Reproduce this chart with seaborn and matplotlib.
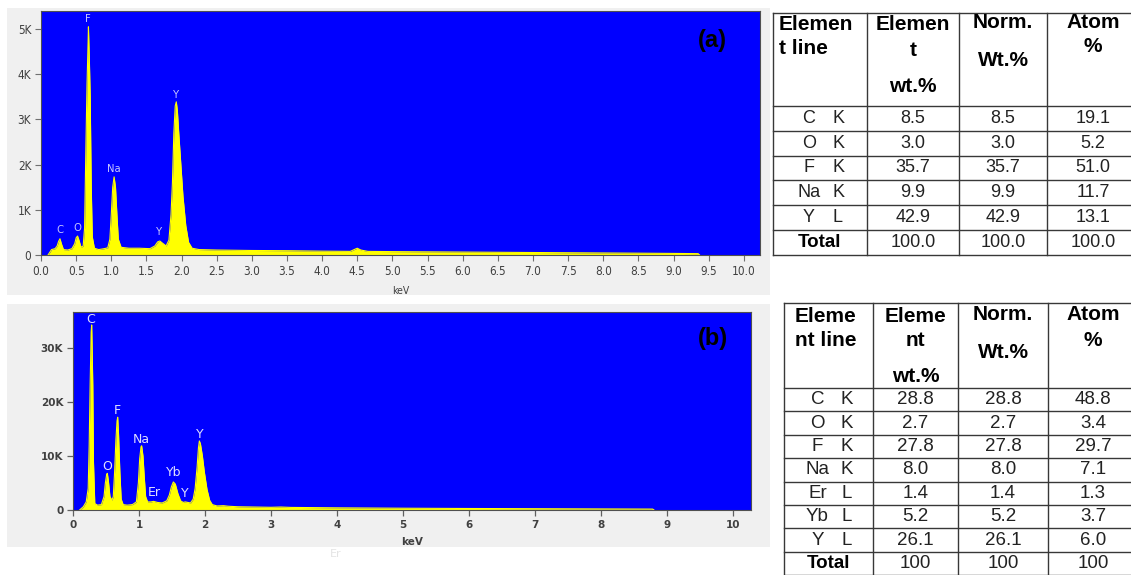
import matplotlib
matplotlib.use("Agg")
import matplotlib.pyplot as plt
import seaborn as sns
import pandas as pd
from matplotlib.patches import Rectangle

# ---------------- data: spectrum (a) ----------------
energy_a = [0.10, 0.15, 0.20, 0.23, 0.25, 0.27, 0.29, 0.32, 0.38, 0.44, 0.48, 0.50, 0.52,
            0.54, 0.57, 0.60, 0.62, 0.64, 0.655, 0.67, 0.675, 0.69, 0.70, 0.715, 0.73, 0.76,
            0.82, 0.90, 0.95, 0.98, 1.00, 1.02, 1.04, 1.06, 1.08, 1.10, 1.14, 1.25, 1.40,
            1.55, 1.62, 1.66, 1.69, 1.73, 1.78, 1.82, 1.85, 1.87, 1.89, 1.91, 1.925, 1.94,
            1.96, 1.99, 2.02, 2.06, 2.10, 2.15, 2.25, 2.50, 3.00, 3.50, 4.00, 4.40, 4.47,
            4.50, 4.55, 4.65, 5.00, 5.50, 6.00, 6.50, 7.00, 7.50, 8.00, 8.50, 9.00, 9.35, 9.37]
counts_a = [0, 120, 140, 200, 300, 360, 250, 120, 110, 140, 250, 380, 420,
            330, 170, 200, 600, 2500, 3800, 4700, 5050, 4200, 3500, 1500, 400, 150,
            120, 140, 160, 350, 900, 1500, 1730, 1500, 900, 350, 170, 150, 150,
            140, 200, 290, 310, 260, 200, 330, 900, 1600, 2700, 3300, 3390, 3200,
            2700, 2000, 1300, 650, 280, 150, 120, 110, 100, 95, 85, 80, 130,
            150, 110, 80, 75, 70, 65, 60, 55, 50, 45, 40, 35, 30, 0]
labels_a = ["C", "O", "F", "Na", "Y", "Y"]
label_x_a = [0.27, 0.52, 0.67, 1.04, 1.68, 1.92]
label_y_a = [550, 600, 5220, 1900, 510, 3540]
xticks_a = [0.0, 0.5, 1.0, 1.5, 2.0, 2.5, 3.0, 3.5, 4.0, 4.5, 5.0, 5.5, 6.0, 6.5, 7.0,
            7.5, 8.0, 8.5, 9.0, 9.5, 10.0]
yticks_a = [0, 1000, 2000, 3000, 4000, 5000]
ytick_labels_a = ["0", "1K", "2K", "3K", "4K", "5K"]

# ---------------- data: spectrum (b) ----------------
energy_b = [0.10, 0.156, 0.20, 0.23, 0.245, 0.26, 0.275, 0.283, 0.29, 0.30, 0.31, 0.33, 0.37,
            0.43, 0.47, 0.49, 0.51, 0.52, 0.535, 0.56, 0.59, 0.61, 0.63, 0.65, 0.667, 0.677,
            0.69, 0.71, 0.73, 0.76, 0.82, 0.90, 0.96, 0.99, 1.01, 1.03, 1.04, 1.06, 1.08,
            1.10, 1.13, 1.18, 1.22, 1.28, 1.35, 1.42, 1.46, 1.49, 1.52, 1.55, 1.59, 1.63,
            1.67, 1.70, 1.74, 1.78, 1.82, 1.85, 1.88, 1.90, 1.914, 1.93, 1.96, 1.99, 2.03,
            2.07, 2.11, 2.18, 2.28, 2.35, 2.50, 3.00, 3.15, 3.30, 4.00, 5.00, 6.00, 7.00,
            8.00, 8.78, 8.80]
counts_b = [0, 600, 1500, 4000, 12000, 23500, 33000, 34300, 30000, 23000, 9000, 1200, 900,
            1000, 2500, 5000, 6600, 6800, 5500, 2500, 1800, 2500, 7000, 13000, 16500, 17200,
            14000, 7000, 2000, 1000, 900, 1000, 1500, 5000, 9500, 11700, 11900, 10000, 6000,
            2500, 1500, 1500, 1600, 1400, 1300, 1700, 2800, 4300, 5200, 4800, 3000, 1700,
            1400, 1500, 1400, 1300, 2000, 4000, 8000, 11500, 12800, 12300, 10000, 7000, 3800,
            1800, 1000, 750, 800, 700, 600, 500, 550, 480, 400, 330, 280, 240,
            200, 170, 0]
labels_b = ["C", "O", "F", "Na", "Er", "Yb", "Y", "Y"]
label_x_b = [0.27, 0.52, 0.67, 1.03, 1.23, 1.52, 1.70, 1.92]
label_y_b = [35400, 8000, 18500, 13100, 3300, 6900, 3000, 14000]
xticks_b = [0, 1, 2, 3, 4, 5, 6, 7, 8, 9, 10]
yticks_b = [0, 10000, 20000, 30000]
ytick_labels_b = ["0", "10K", "20K", "30K"]

# ---------------- data: tables ----------------
header_a = [["Elemen", "t line"], ["Elemen", "t", "wt.%"], ["Norm.", "Wt.%"], ["Atom", "%"]]
elements_a = ["C", "O", "F", "Na", "Y"]
lines_a = ["K", "K", "K", "K", "L"]
wt_a = ["8.5", "3.0", "35.7", "9.9", "42.9"]
norm_a = ["8.5", "3.0", "35.7", "9.9", "42.9"]
atom_a = ["19.1", "5.2", "51.0", "11.7", "13.1"]
total_a = ["100.0", "100.0", "100.0"]

header_b = [["Eleme", "nt line"], ["Eleme", "nt", "wt.%"], ["Norm.", "Wt.%"], ["Atom", "%"]]
elements_b = ["C", "O", "F", "Na", "Er", "Yb", "Y"]
lines_b = ["K", "K", "K", "K", "L", "L", "L"]
wt_b = ["28.8", "2.7", "27.8", "8.0", "1.4", "5.2", "26.1"]
norm_b = ["28.8", "2.7", "27.8", "8.0", "1.4", "5.2", "26.1"]
atom_b = ["48.8", "3.4", "29.7", "7.1", "1.3", "3.7", "6.0"]
total_b = ["100", "100", "100"]

# ---------------- figure ----------------
W, H = 1131, 575
fig = plt.figure(figsize=(W / 100, H / 100), dpi=100)
fig.patch.set_facecolor("white")

def frac(l, t, r, b):
    return [l / W, 1 - b / H, (r - l) / W, (b - t) / H]

SANS = ["Liberation Sans", "DejaVu Sans"]
NARROW = ["Liberation Sans Narrow", "DejaVu Sans"]

over = fig.add_axes([0, 0, 1, 1])
over.set_xlim(0, W)
over.set_ylim(H, 0)
over.axis("off")
over.set_zorder(0)
over.add_patch(Rectangle((7, 8), 763, 287, color="#f0f0f0", lw=0))
over.add_patch(Rectangle((7, 304), 763, 243, color="#f0f0f0", lw=0))

BLUE = "#0000ff"
YEL = "#ffff00"


def spectrum(ax, e, c):
    df = pd.DataFrame({"keV": e, "counts": c})
    ax.fill_between(df["keV"], df["counts"], color=YEL, lw=0, zorder=2)
    sns.lineplot(data=df, x="keV", y="counts", ax=ax, color=YEL, lw=0.8, zorder=3)


# ---- panel (a)
ax_a = fig.add_axes(frac(41, 11, 760, 255))
ax_a.set_zorder(2)
ax_a.set_facecolor(BLUE)
spectrum(ax_a, energy_a, counts_a)
ax_a.set_xlim(0, 10.23)
ax_a.set_ylim(0, 5400)
ax_a.set_xticks(xticks_a)
ax_a.set_xticklabels([f"{v:.1f}" for v in xticks_a], family=NARROW, fontstretch="condensed",
                     fontsize=8.5, color="#404040")
ax_a.set_yticks(yticks_a)
ax_a.set_yticklabels(ytick_labels_a, family=NARROW, fontstretch="condensed",
                     fontsize=8.5, color="#404040")
ax_a.tick_params(direction="out", length=4, width=0.8, color="#707070", pad=3)
ax_a.set_xlabel("keV", family=NARROW, fontstretch="condensed", fontsize=7.5,
                color="#404040", labelpad=6)
ax_a.set_ylabel("")
ax_a.grid(False)
for s in ax_a.spines.values():
    s.set_color("#505050")
    s.set_linewidth(0.8)
for lab, x, y in zip(labels_a, label_x_a, label_y_a):
    ax_a.text(x, y, lab, ha="center", va="center", family=NARROW, fontstretch="condensed",
              fontsize=8, color="#c8c8ff", zorder=4)

# ---- panel (b)
ax_b = fig.add_axes(frac(73, 312, 751, 510))
ax_b.set_zorder(2)
ax_b.set_facecolor(BLUE)
spectrum(ax_b, energy_b, counts_b)
ax_b.set_xlim(0, 10.27)
ax_b.set_ylim(0, 36700)
ax_b.set_xticks(xticks_b)
ax_b.set_xticklabels([str(v) for v in xticks_b], family="DejaVu Sans", fontweight="bold",
                     fontsize=7.5, color="#404040")
ax_b.set_yticks(yticks_b)
ax_b.set_yticklabels(ytick_labels_b, family="DejaVu Sans", fontweight="bold",
                     fontsize=7.5, color="#404040")
ax_b.tick_params(direction="out", length=4, width=0.9, color="#606060", pad=3)
ax_b.set_xlabel("keV", family="DejaVu Sans", fontweight="bold", fontsize=7.5,
                color="#404040", labelpad=5)
ax_b.set_ylabel("")
ax_b.grid(False)
for s in ax_b.spines.values():
    s.set_color("#505050")
    s.set_linewidth(0.8)
for lab, x, y in zip(labels_b, label_x_b, label_y_b):
    ax_b.text(x, y, lab, ha="center", va="center", family="DejaVu Sans", fontsize=9,
              color="#e0e0ff", zorder=4)

fig.text(712 / W, 1 - 40 / H, "(a)", family=SANS, fontweight="bold", fontsize=17,
         ha="center", va="center", color="black")
fig.text(713 / W, 1 - 338 / H, "(b)", family=SANS, fontweight="bold", fontsize=17,
         ha="center", va="center", color="black")
fig.text(336 / W, 1 - 554 / H, "Er", family="DejaVu Sans", fontsize=8,
         ha="center", va="center", color="#e4e4e4")


# ---------------- tables ----------------
def draw_table(cols, top, hdr_bottom, row_h, header, header_y, col1_x,
               elems, lines, wt, norm, atom, total, fs, hfs):
    n = len(elems) + 1
    bottom = hdr_bottom + n * row_h
    lc = "#383838"
    lw = 1.0
    right = cols[-1]
    over.plot([cols[0], right], [top, top], color=lc, lw=lw, clip_on=False)
    over.plot([cols[0], right], [hdr_bottom, hdr_bottom], color=lc, lw=lw, clip_on=False)
    for i in range(1, n + 1):
        yy = hdr_bottom + i * row_h
        over.plot([cols[0], right], [yy, yy], color=lc, lw=lw, clip_on=False)
    for x in cols:
        over.plot([x, x], [top, bottom], color=lc, lw=lw, clip_on=False)
    centers = [(cols[i] + cols[i + 1]) / 2 for i in range(len(cols) - 1)]
    # header
    for j, (lst, ys) in enumerate(zip(header, header_y)):
        for txt, yy in zip(lst, ys):
            if j == 0:
                over.text(col1_x, yy, txt, ha="left", va="center", family=SANS,
                          fontweight="bold", fontsize=hfs)
            else:
                over.text(centers[j], yy, txt, ha="center", va="center", family=SANS,
                          fontweight="bold", fontsize=hfs)
    # rows
    for i in range(len(elems)):
        yy = hdr_bottom + (i + 0.5) * row_h
        over.text(centers[0] - 11, yy, elems[i], ha="center", va="center", family=SANS,
                  fontsize=fs, color="#222222")
        over.text(centers[0] + 18, yy, lines[i], ha="center", va="center", family=SANS,
                  fontsize=fs, color="#222222")
        for j, v in enumerate([wt[i], norm[i], atom[i]]):
            over.text(centers[j + 1], yy, v, ha="center", va="center", family=SANS,
                      fontsize=fs, color="#222222")
    yy = hdr_bottom + (len(elems) + 0.5) * row_h
    over.text(centers[0], yy, "Total", ha="center", va="center", family=SANS,
              fontweight="bold", fontsize=hfs - 1.5)
    for j, v in enumerate(total):
        over.text(centers[j + 1], yy, v, ha="center", va="center", family=SANS,
                  fontsize=fs, color="#222222")


draw_table([773, 867, 959, 1047, 1139], 13, 106, 24.8, header_a,
           [[24, 48], [24, 50, 87], [22, 61], [22, 46]], 779,
           elements_a, lines_a, wt_a, norm_a, atom_a, total_a, 13, 15)
draw_table([784, 873, 958, 1048, 1138], 303, 388, 23.4, header_b,
           [[316, 340], [316, 341, 377], [315, 352], [315, 340]], 795,
           elements_b, lines_b, wt_b, norm_b, atom_b, total_b, 13.5, 15)

fig.savefig("out.png", dpi=100)
